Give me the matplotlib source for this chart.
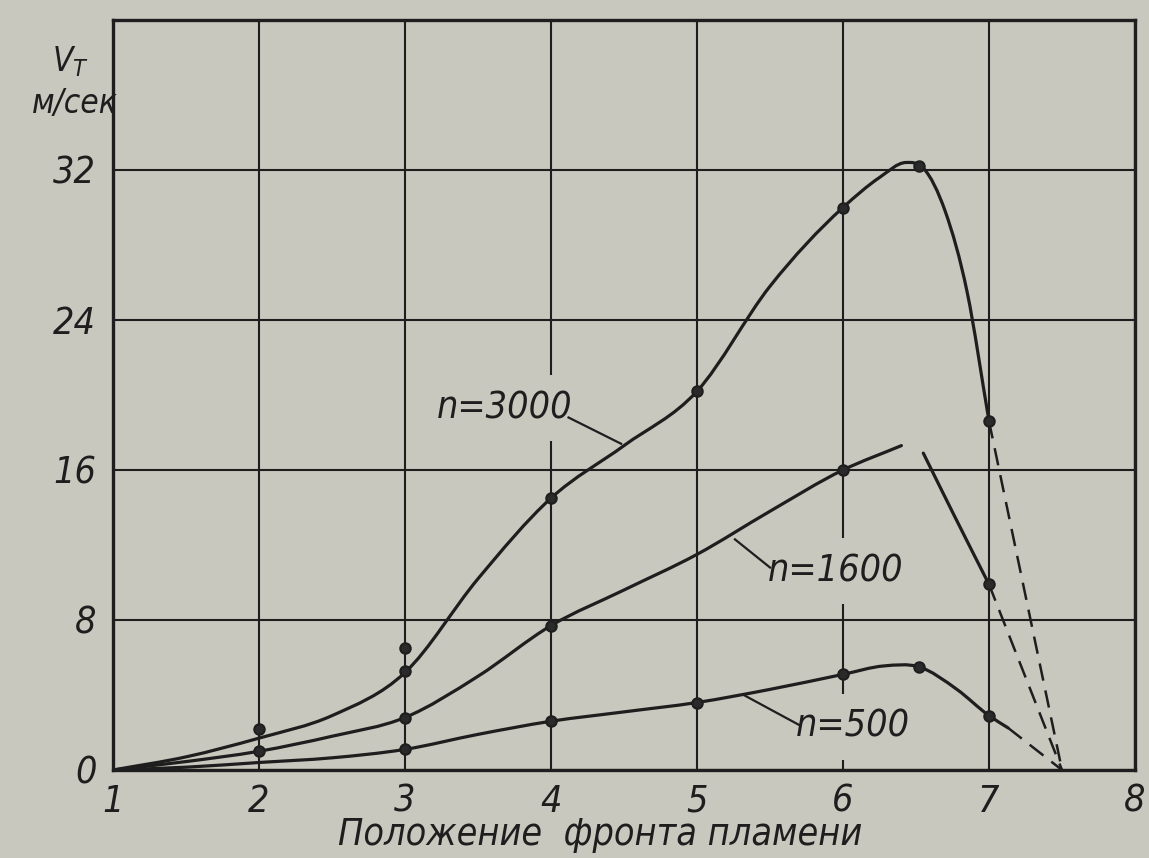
import numpy as np
import matplotlib
matplotlib.use("Agg")
import matplotlib.pyplot as plt
from matplotlib.path import Path
from matplotlib.patches import PathPatch

# ── colours / fonts ──────────────────────────────────────────────────────
PAPER = "#c8c8be"
INK = "#1e1e1e"
plt.rcParams["font.family"] = ["DejaVu Sans"]
plt.rcParams["font.stretch"] = "condensed"
plt.rcParams["font.style"] = "italic"

# ── data ─────────────────────────────────────────────────────────────────
x_ticks = [1, 2, 3, 4, 5, 6, 7, 8]
y_ticks = [0, 8, 16, 24, 32]

# n = 3000
c3000_x = [1.0, 1.5, 2.0, 2.5, 3.0, 3.5, 4.0, 4.5, 5.0, 5.5, 6.0, 6.25,
           6.43, 6.55, 6.7, 6.85, 7.0]
c3000_y = [0.0, 0.7, 1.7, 2.9, 5.2, 10.2, 14.5, 17.3, 20.2, 25.8, 30.0, 31.6,
           32.4, 32.1, 29.8, 25.5, 18.6]
d3000_x = [7.0, 7.5]
d3000_y = [18.6, 0.0]
p3000_x = [2, 3, 3, 4, 5, 6, 6.52, 7.0]
p3000_y = [2.2, 6.5, 5.3, 14.5, 20.2, 30.0, 32.2, 18.6]

# n = 1600 (two solid pieces with a gap near the maximum)
c1600a_x = [1.0, 1.5, 2.0, 2.5, 3.0, 3.5, 4.0, 4.5, 5.0, 5.5, 6.0, 6.4]
c1600a_y = [0.0, 0.45, 1.0, 1.8, 2.8, 5.0, 7.7, 9.6, 11.5, 13.8, 16.0, 17.3]
c1600b_x = [6.55, 6.76, 7.0]
c1600b_y = [16.9, 13.6, 9.9]
d1600_x = [7.0, 7.5]
d1600_y = [9.9, 0.0]
p1600_x = [2, 3, 4, 6, 7]
p1600_y = [1.0, 2.8, 7.7, 16.0, 9.9]

# n = 500
c500_x = [1.0, 1.5, 2.0, 2.5, 3.0, 3.5, 4.0, 4.5, 5.0, 5.5, 6.0, 6.28,
          6.52, 6.78, 7.0, 7.13]
c500_y = [0.0, 0.15, 0.4, 0.65, 1.1, 1.9, 2.6, 3.1, 3.6, 4.3, 5.1, 5.55,
          5.5, 4.3, 2.9, 2.25]
d500_x = [7.13, 7.5]
d500_y = [2.25, 0.0]
p500_x = [3, 4, 5, 6, 6.52, 7.0]
p500_y = [1.1, 2.6, 3.6, 5.1, 5.5, 2.9]

# labels: (text, text x, text y, leader from, leader to)
labels = [
    ("n=3000", 3.68, 19.3, (4.12, 18.8), (4.48, 17.4)),
    ("n=1600", 5.95, 10.6, (5.5, 10.8), (5.26, 12.3)),
    ("n=500", 6.07, 2.3, (5.7, 2.4), (5.32, 4.0)),
]


def smooth_path(xs, ys):
    """Cubic Hermite through the knots, as bezier segments (x increasing)."""
    x = np.asarray(xs, float)
    y = np.asarray(ys, float)
    h = np.diff(x)
    d = np.diff(y) / h
    m = np.empty_like(y)
    m[0], m[-1] = d[0], d[-1]
    m[1:-1] = (d[:-1] * h[1:] + d[1:] * h[:-1]) / (h[:-1] + h[1:])
    verts = [(x[0], y[0])]
    codes = [Path.MOVETO]
    for i in range(len(h)):
        verts += [(x[i] + h[i] / 3, y[i] + m[i] * h[i] / 3),
                  (x[i + 1] - h[i] / 3, y[i + 1] - m[i + 1] * h[i] / 3),
                  (x[i + 1], y[i + 1])]
        codes += [Path.CURVE4] * 3
    return Path(verts, codes)


fig = plt.figure(figsize=(11.49, 8.58), dpi=100, facecolor=PAPER)
ax = fig.add_axes([113 / 1149, 88 / 858, 1022 / 1149, 750 / 858])
ax.set_facecolor(PAPER)
ax.set_xlim(1, 8)
ax.set_ylim(0, 40)

ax.set_xticks(x_ticks)
ax.set_yticks(y_ticks)
ax.grid(True, color=INK, lw=1.5, zorder=1)
ax.set_axisbelow(True)
for s in ax.spines.values():
    s.set_linewidth(2.4)
    s.set_color(INK)
ax.tick_params(length=0, labelsize=27, colors=INK)
ax.tick_params(axis="x", pad=10)
ax.tick_params(axis="y", pad=12)

lw = 2.3
for xs, ys in [(c3000_x, c3000_y), (c1600a_x, c1600a_y),
               (c1600b_x, c1600b_y), (c500_x, c500_y)]:
    ax.add_patch(PathPatch(smooth_path(xs, ys), fill=False,
                           ec=INK, lw=lw, capstyle="round", zorder=3))

for xs, ys in [(d3000_x, d3000_y), (d1600_x, d1600_y), (d500_x, d500_y)]:
    ax.plot(xs, ys, color=INK, lw=1.8, dashes=(7, 4), zorder=3)

for xs, ys in [(p3000_x, p3000_y), (p1600_x, p1600_y), (p500_x, p500_y)]:
    ax.plot(xs, ys, "o", ls="none", ms=7.5, mfc="#2a2a2a", mec=INK,
            mew=1.5, zorder=4)

for txt, tx, ty, a, b in labels:
    ax.text(tx, ty, txt, fontsize=27, color=INK, ha="center", va="center",
            zorder=2.5,
            bbox=dict(boxstyle="square,pad=0.4", fc=PAPER, ec="none"))
    ax.plot([a[0], b[0]], [a[1], b[1]], color=INK, lw=1.6, zorder=3)

# axis captions
fig.text(70 / 1149, 1 - 62 / 858, "$V_T$", fontsize=24, color=INK,
         ha="center", va="center", math_fontfamily="dejavusans")
fig.text(118 / 1149, 1 - 103 / 858, "м/сек", fontsize=24, color=INK,
         ha="right", va="center")
fig.text(600 / 1149, 1 - 835 / 858, "Положение  фронта пламени",
         fontsize=27, color=INK, ha="center", va="center")

fig.savefig("out.png", dpi=100, facecolor=PAPER)
